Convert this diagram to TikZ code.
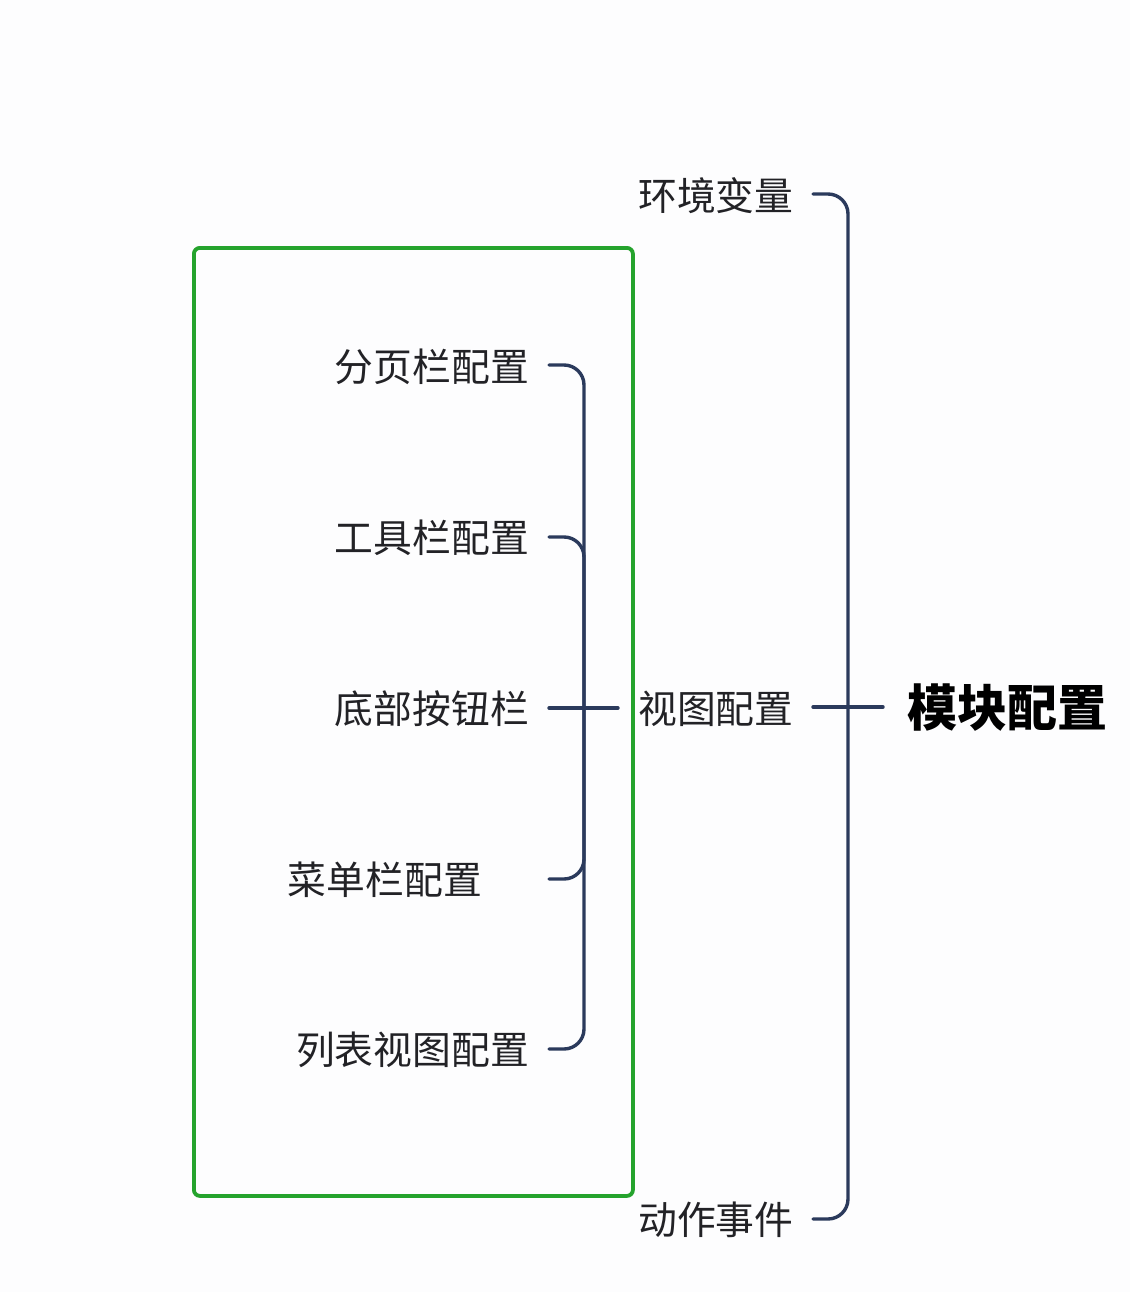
\documentclass[tikz,border=0pt]{standalone}
\usepackage{fontspec}
\newfontfamily\cjk{Noto Sans CJK SC}
\definecolor{navy}{HTML}{2B3A5C}
\definecolor{boxgreen}{HTML}{25A32D}
\definecolor{txt}{HTML}{222226}
\definecolor{bg}{HTML}{FDFDFE}
\begin{document}
\begin{tikzpicture}[x=1pt,y=-1pt,
  lbl/.style={inner sep=0pt,text=txt,font=\cjk\fontsize{38.8}{42}\selectfont},
  main/.style={inner sep=0pt,text=black,font=\cjk\bfseries\fontsize{50}{54}\selectfont},
  br/.style={draw=navy,line width=3.4pt,rounded corners=20pt,line cap=round},
  grp/.style={draw=boxgreen,line width=3.8pt,rounded corners=6pt}]
\fill[bg] (0,0) rectangle (1130,1292);
\useasboundingbox (0,0) rectangle (1130,1292);
% green group box
\node[grp,minimum width=439pt,minimum height=948pt,anchor=north west] (box) at (192,246) {};
% inner labels
\node[lbl,anchor=east] (t1) at (529,367) {分页栏配置};
\node[lbl,anchor=east] (t2) at (529,538) {工具栏配置};
\node[lbl,anchor=east] (t3) at (529,709) {底部按钮栏};
\node[lbl,anchor=east] (t4) at (482,880) {菜单栏配置};
\node[lbl,anchor=east] (t5) at (529,1050) {列表视图配置};
% outer labels
\node[lbl,anchor=west] (o1) at (638,196) {环境变量};
\node[lbl,anchor=west] (o2) at (638,709) {视图配置};
\node[lbl,anchor=west] (o3) at (638,1220) {动作事件};
\node[main,anchor=west] (root) at (907,708) {模块配置};
% inner bracket coordinates
\coordinate (b1) at (549,365);
\coordinate (b2) at (549,537);
\coordinate (b3) at (549,708);
\coordinate (b4) at (549,879);
\coordinate (b5) at (549,1049);
\coordinate (im) at (584,708);
\coordinate (ie) at (618,708);
\draw[br] (b1) -| (im) |- (b5);
\draw[br] (b2) -| (im);
\draw[br] (b4) -| (im);
\draw[br] (b3) -- (ie);
% outer bracket
\coordinate (c1) at (813,194);
\coordinate (c2) at (813,707);
\coordinate (c3) at (813,1219);
\coordinate (om) at (848,707);
\coordinate (oe) at (883,707);
\draw[br] (c1) -| (om) |- (c3);
\draw[br] (c2) -- (oe);
\end{tikzpicture}
\end{document}
